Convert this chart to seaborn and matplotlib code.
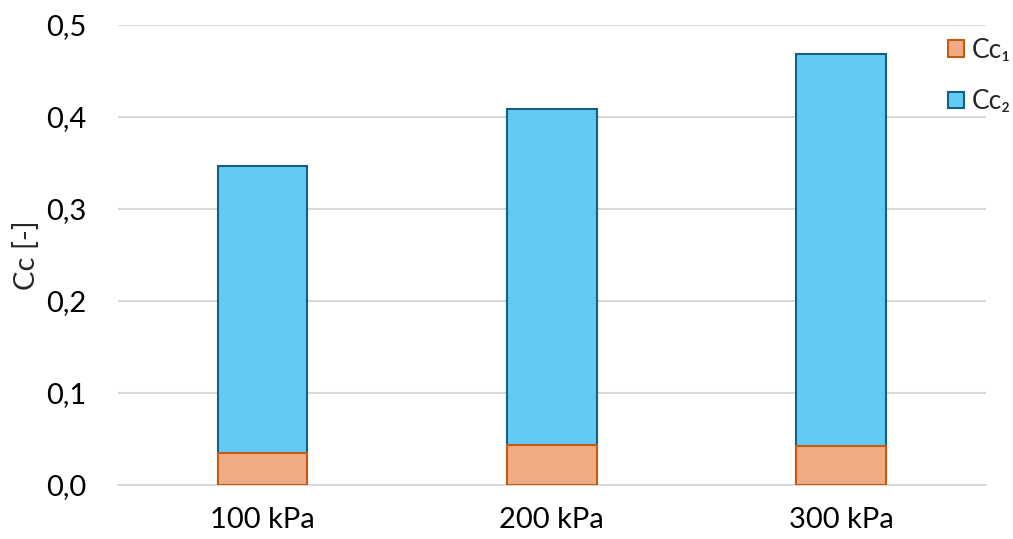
import matplotlib
matplotlib.use("Agg")
import matplotlib.pyplot as plt
import seaborn as sns
import pandas as pd
from matplotlib.patches import Patch

categories = ["100 kPa", "200 kPa", "300 kPa"]
cc1 = [0.035, 0.044, 0.042]
cc2 = [0.312, 0.365, 0.426]
series_labels = ["Cc\u2081", "Cc\u2082"]

df = pd.DataFrame({"cat": categories, "cc1": cc1, "cc2": cc2})
df["total"] = df["cc1"] + df["cc2"]

sns.set_theme(style="white")
plt.rcParams["font.family"] = ["Lato", "DejaVu Sans"]

fig = plt.figure(figsize=(10.13, 5.39), dpi=100)
ax = fig.add_axes([0.1165, 0.1002, 0.8565, 0.8534])

c1_fill, c1_edge = "#F2AA84", "#C55A11"
c2_fill, c2_edge = "#61CBF3", "#156082"

sns.barplot(data=df, x="cat", y="total", color=c2_fill, edgecolor=c2_edge,
            linewidth=1.5, width=0.31, saturation=1, ax=ax, zorder=3)
sns.barplot(data=df, x="cat", y="cc1", color=c1_fill, edgecolor=c1_edge,
            linewidth=1.5, width=0.31, saturation=1, ax=ax, zorder=4)

ax.set_xlim(-0.5, 2.5)
ax.set_ylim(0, 0.5)
ax.set_yticks([0, 0.1, 0.2, 0.3, 0.4, 0.5])
ax.set_yticklabels([f"{v:.1f}".replace(".", ",") for v in [0, 0.1, 0.2, 0.3, 0.4, 0.5]])
ax.yaxis.grid(True, color="#D9D9D9", linewidth=1.5, zorder=0)
ax.set_axisbelow(True)
for s in ["top", "right", "left"]:
    ax.spines[s].set_visible(False)
ax.spines["bottom"].set_color("#D9D9D9")
ax.spines["bottom"].set_linewidth(1.5)
ax.tick_params(axis="both", length=0, labelsize=21, colors="black")
ax.tick_params(axis="x", pad=16)
ax.tick_params(axis="y", pad=23)
ax.set_xlabel("")
ax.set_ylabel("Cc [-]", fontsize=21, labelpad=4)

handles = [Patch(facecolor=c1_fill, edgecolor=c1_edge, linewidth=1.5),
           Patch(facecolor=c2_fill, edgecolor=c2_edge, linewidth=1.5)]
ax.legend(handles, series_labels, loc="upper left", bbox_to_anchor=(0.945, 0.995),
          frameon=False, fontsize=19, handlelength=0.6, handleheight=0.6,
          handletextpad=0.3, labelspacing=1.0, borderaxespad=0)

fig.savefig("out.png", dpi=100)
